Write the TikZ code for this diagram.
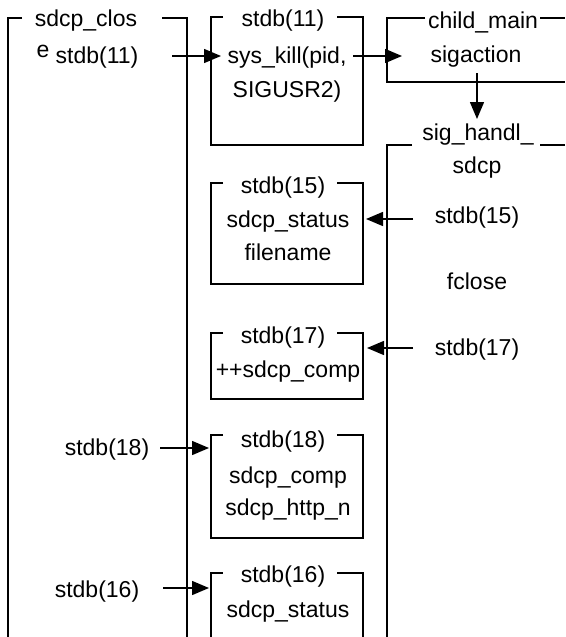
\documentclass[tikz,border=0pt]{standalone}
\usepackage{fontspec}
\setmainfont{Liberation Sans}
\usetikzlibrary{arrows.meta}
\begin{document}
\begin{tikzpicture}[x=1pt,y=-1pt,
  frame/.style={line width=1.5pt,line join=miter},
  lbl/.style={anchor=base,inner sep=0pt,font=\fontsize{23}{27}\selectfont},
  arr/.style={line width=1.5pt,-{Triangle[length=17pt,width=14pt]}}]
\useasboundingbox (0,0) rectangle (565,637);
% frames
\draw[frame] (22,18) -- (8,18) -- (8,637);
\draw[frame] (162,18) -- (187,18) -- (187,637);
\draw[frame] (223,17) -- (211,17) -- (211,145) -- (363,145) -- (363,17) -- (337,17);
\draw[frame] (425,18) -- (387,18) -- (387,82) -- (565,82);
\draw[frame] (540,18) -- (565,18);
\draw[frame] (412,145) -- (387,145) -- (387,637);
\draw[frame] (540,145) -- (565,145);
\draw[frame] (223,183) -- (211,183) -- (211,284) -- (363,284) -- (363,183) -- (337,183);
\draw[frame] (223,333) -- (211,333) -- (211,399) -- (363,399) -- (363,333) -- (337,333);
\draw[frame] (223,435) -- (211,435) -- (211,538) -- (363,538) -- (363,435) -- (337,435);
\draw[frame] (211,637) -- (211,573) -- (223,573);
\draw[frame] (337,573) -- (363,573) -- (363,637);
% texts
\node[lbl] (tclose) at (86,26) {sdcp\_clos};
\node[lbl] (te) at (43,57) {e};
\node[lbl] (l11) at (97,63) {stdb(11)};
\node[lbl] (b11) at (283,26) {stdb(11)};
\node[lbl] (bkill) at (287,63) {sys\_kill(pid,};
\node[lbl] (bsig) at (287,97) {SIGUSR2)};
\node[lbl] (cmain) at (483,28) {child\_main};
\node[lbl] (cact) at (476,62) {sigaction};
\node[lbl] (dhand) at (478,140) {sig\_handl\_};
\node[lbl] (dsdcp) at (477,173) {sdcp};
\node[lbl] (e15) at (283,193) {stdb(15)};
\node[lbl] (estat) at (288,227) {sdcp\_status};
\node[lbl] (efile) at (288,260) {filename};
\node[lbl] (r15) at (477,223) {stdb(15)};
\node[lbl] (rfclose) at (477,289) {fclose};
\node[lbl] (r17) at (477,355) {stdb(17)};
\node[lbl] (f17) at (283,343) {stdb(17)};
\node[lbl] (fcomp) at (288,377) {++sdcp\_comp};
\node[lbl] (g18) at (283,447) {stdb(18)};
\node[lbl] (gcomp) at (288,483) {sdcp\_comp};
\node[lbl] (ghttp) at (288,515) {sdcp\_http\_n};
\node[lbl] (l18) at (107,455) {stdb(18)};
\node[lbl] (h16) at (283,582) {stdb(16)};
\node[lbl] (hstat) at (288,617) {sdcp\_status};
\node[lbl] (l16) at (97,597) {stdb(16)};
% arrow end points
\coordinate (a11s) at (172,56);  \coordinate (a11e) at (221,56);
\coordinate (abcs) at (353,56);  \coordinate (abce) at (402,56);
\coordinate (advs) at (477,73);  \coordinate (adve) at (477,119);
\coordinate (a15s) at (413,219); \coordinate (a15e) at (366,219);
\coordinate (a17s) at (413,348); \coordinate (a17e) at (367,348);
\coordinate (a18s) at (160,448); \coordinate (a18e) at (209,448);
\coordinate (a16s) at (163,588); \coordinate (a16e) at (209,588);
\draw[arr] (a11s) -- (a11e);
\draw[arr] (abcs) -- (abce);
\draw[arr] (advs) -- (adve);
\draw[arr] (a15s) -- (a15e);
\draw[arr] (a17s) -- (a17e);
\draw[arr] (a18s) -- (a18e);
\draw[arr] (a16s) -- (a16e);
\end{tikzpicture}
\end{document}
